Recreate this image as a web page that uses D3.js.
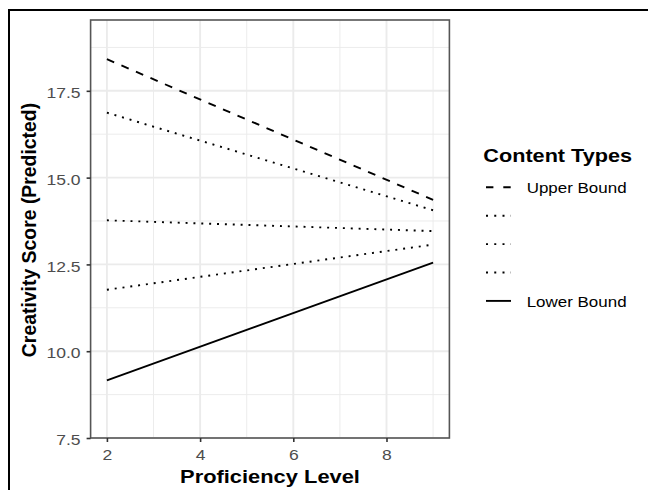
<!DOCTYPE html>
<html>
<head>
<meta charset="utf-8">
<script src="https://cdn.jsdelivr.net/npm/d3@7"></script>
<style>
  html, body { margin: 0; padding: 0; background: #fff; }
  svg { display: block; }
  text { font-family: "Liberation Sans", Arial, Helvetica, sans-serif; }
</style>
</head>
<body>
<svg id="chart" width="648" height="490"></svg>
<script>
// ---- data ----
const proficiency = [2, 9];
const upperBound = [18.41, 14.36];
const content2 = [16.87, 14.06];
const content3 = [13.77, 13.46];
const content4 = [11.77, 13.07];
const lowerBound = [9.16, 12.55];
const seriesLabels = ["Upper Bound", "", "", "", "Lower Bound"];
const seriesTypes = ["dashed", "dotted", "dotted", "dotted", "solid"];
const yTicks = [7.5, 10.0, 12.5, 15.0, 17.5];
const yMinor = [8.75, 11.25, 13.75, 16.25, 18.75];
const xTicks = [2, 4, 6, 8];
const xMinor = [3, 5, 7, 9];

const series = [upperBound, content2, content3, content4, lowerBound].map((vals, i) => ({
  label: seriesLabels[i],
  type: seriesTypes[i],
  values: proficiency.map((p, j) => ({ x: p, y: vals[j] }))
}));

// ---- layout ----
const svg = d3.select("#chart");
const panel = { left: 90.6, right: 449.4, top: 20, bottom: 438 };
const STRETCH = 1.17;
const dash = { dashed: "7.9,7.9", dotted: "1.97,5.9", solid: null };
const LW = 1.9;

const x = d3.scaleLinear().domain([1.65, 9.35]).range([panel.left, panel.right]);
const y = d3.scaleLinear().domain([7.5, 19.54]).range([panel.bottom, panel.top]);

// outer frame
svg.append("rect")
  .attr("x", 9).attr("y", 10).attr("width", 700).attr("height", 600)
  .attr("fill", "none").attr("stroke", "#000").attr("stroke-width", 2);

// panel background
svg.append("rect")
  .attr("x", panel.left).attr("y", panel.top)
  .attr("width", panel.right - panel.left).attr("height", panel.bottom - panel.top)
  .attr("fill", "#fff");

const grid = svg.append("g");
// minor grid
grid.selectAll("line.ymin").data(yMinor).enter().append("line")
  .attr("x1", panel.left).attr("x2", panel.right)
  .attr("y1", d => y(d)).attr("y2", d => y(d))
  .attr("stroke", "#ebebeb").attr("stroke-width", 0.95);
grid.selectAll("line.xmin").data(xMinor).enter().append("line")
  .attr("y1", panel.top).attr("y2", panel.bottom)
  .attr("x1", d => x(d)).attr("x2", d => x(d))
  .attr("stroke", "#ebebeb").attr("stroke-width", 0.95);
// major grid
grid.selectAll("line.ymaj").data(yTicks).enter().append("line")
  .attr("x1", panel.left).attr("x2", panel.right)
  .attr("y1", d => y(d)).attr("y2", d => y(d))
  .attr("stroke", "#ebebeb").attr("stroke-width", 1.9);
grid.selectAll("line.xmaj").data(xTicks).enter().append("line")
  .attr("y1", panel.top).attr("y2", panel.bottom)
  .attr("x1", d => x(d)).attr("x2", d => x(d))
  .attr("stroke", "#ebebeb").attr("stroke-width", 1.9);

// lines
const line = d3.line().x(d => x(d.x)).y(d => y(d.y));
svg.append("g").selectAll("path").data(series).enter().append("path")
  .attr("d", d => line(d.values))
  .attr("fill", "none")
  .attr("stroke", "#000")
  .attr("stroke-width", LW)
  .attr("stroke-dasharray", d => dash[d.type]);

// panel border
svg.append("rect")
  .attr("x", panel.left).attr("y", panel.top)
  .attr("width", panel.right - panel.left).attr("height", panel.bottom - panel.top)
  .attr("fill", "none").attr("stroke", "#555").attr("stroke-width", 1.6);

// axes
const yAxis = d3.axisLeft(y).tickValues(yTicks).tickFormat(d3.format(".1f")).tickSize(4).tickPadding(6);
const gy = svg.append("g").attr("transform", `translate(${panel.left},0)`).call(yAxis);
gy.select(".domain").remove();
gy.selectAll(".tick line").attr("stroke", "#333").attr("stroke-width", 1.6);
gy.selectAll(".tick text")
  .attr("x", -10 / STRETCH).attr("dy", "0.44em")
  .attr("transform", `scale(${STRETCH},1)`)
  .attr("fill", "#4d4d4d").style("font-size", "15px")
  .style("font-family", '"Liberation Sans", Arial, sans-serif');

const xAxis = d3.axisBottom(x).tickValues(xTicks).tickFormat(d3.format("d")).tickSize(4).tickPadding(7.3);
const gx = svg.append("g").attr("transform", `translate(0,${panel.bottom})`).call(xAxis);
gx.select(".domain").remove();
gx.selectAll(".tick line").attr("stroke", "#333").attr("stroke-width", 1.6);
gx.selectAll(".tick text")
  .attr("transform", `scale(${STRETCH},1)`)
  .attr("fill", "#4d4d4d").style("font-size", "15px")
  .style("font-family", '"Liberation Sans", Arial, sans-serif');

// axis titles
svg.append("g").attr("transform", `translate(${(panel.left + panel.right) / 2},482.7) scale(1.176,1)`)
  .append("text").attr("text-anchor", "middle")
  .style("font-size", "18.6px").style("font-weight", "bold").attr("fill", "#000")
  .text("Proficiency Level");

svg.append("g").attr("transform", `translate(36,${(panel.top + panel.bottom) / 2 + 1}) rotate(-90)`)
  .append("text").attr("text-anchor", "middle")
  .style("font-size", "19.4px").style("font-weight", "bold").attr("fill", "#000")
  .text("Creativity Score (Predicted)");

// legend
const legend = svg.append("g");
legend.append("g").attr("transform", "translate(483.3,161.7) scale(1.19,1)")
  .append("text").style("font-size", "18.2px").style("font-weight", "bold").attr("fill", "#000")
  .text("Content Types");

const rowY0 = 187.3, rowStep = 28.4;
const rows = legend.selectAll("g.row").data(series).enter().append("g")
  .attr("transform", (d, i) => `translate(486,${rowY0 + i * rowStep})`);
rows.append("line")
  .attr("x1", 0).attr("x2", 25).attr("y1", 0).attr("y2", 0)
  .attr("stroke", "#000").attr("stroke-width", LW)
  .attr("stroke-dasharray", d => d.type === "dashed" ? "7.4,9.9" : d.type === "dotted" ? "2,6.25" : null);
rows.append("g").attr("transform", `translate(40.7,5.9) scale(1.13,1)`)
  .append("text").style("font-size", "15px").attr("fill", "#000")
  .text(d => d.label);
</script>
</body>
</html>
